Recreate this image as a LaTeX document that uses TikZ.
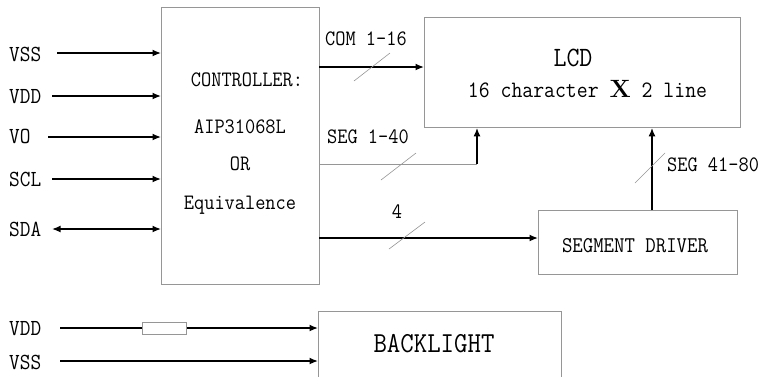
\documentclass[tikz,border=0pt]{standalone}
\usepackage{fontspec}
\setmonofont{Latin Modern Mono}[FakeStretch=0.9]
\usetikzlibrary{arrows.meta}
\definecolor{boxgray}{RGB}{150,150,150}
\begin{document}
\begin{tikzpicture}[x=1pt,y=-1pt,
  box/.style={draw=boxgray, line width=0.9pt, inner sep=0pt, anchor=north west},
  txt/.style={font=\ttfamily\fontsize{22}{24}\selectfont, inner sep=0pt},
  lbl/.style={txt, anchor=base west},
  ctxt/.style={txt, anchor=base},
  arr/.style={line width=1.5pt, -{Latex[length=8.5pt,width=7pt]}},
  darr/.style={line width=1.5pt, {Latex[length=8.5pt,width=7pt]}-{Latex[length=8.5pt,width=7pt]}},
  thinln/.style={draw=boxgray, line width=0.9pt},
  slash/.style={draw=boxgray, line width=0.6pt}]
\useasboundingbox (0,0) rectangle (766,376);
\fill[white] (0,0) rectangle (766,376);

% boxes
\node[box, minimum width=158pt, minimum height=277pt] (ctrl) at (161,7) {};
\node[box, minimum width=316pt, minimum height=110pt] (lcd) at (424,17) {};
\node[box, minimum width=199pt, minimum height=64pt] (seg) at (538,210) {};
\node[box, minimum width=243pt, minimum height=90pt] (bl) at (318,311) {};
\node[box, minimum width=44pt, minimum height=12pt, line width=0.8pt] (res) at (142,322) {};

% controller text
\node[ctxt] (t1) at (247,86) {CONTROLLER:};
\node[ctxt] (t2) at (240,133) {AIP31068L};
\node[ctxt] (t3) at (240,170) {OR};
\node[ctxt] (t4) at (240,209) {Equivalence};

% LCD text
\node[ctxt, font=\ttfamily\fontsize{28}{30}\selectfont] (tl1) at (573,66.5) {LCD};
\node[ctxt, font=\ttfamily\fontsize{23.5}{26}\selectfont] (tl2) at (587.5,97) {16 character {\rmfamily\bfseries\fontsize{25}{26}\selectfont X} 2 line};

% segment driver / backlight text
\node[ctxt, font=\ttfamily\fontsize{22.5}{24}\selectfont] (ts) at (635,252) {SEGMENT DRIVER};
\node[ctxt, font=\ttfamily\fontsize{29}{31}\selectfont] (tb) at (434,352.5) {BACKLIGHT};

% input labels
\begin{scope}[every node/.style={lbl, font=\ttfamily\fontsize{23}{25}\selectfont}]
\node (lvss) at (9,61.5) {VSS};
\node (lvdd) at (9,103) {VDD};
\node (lvo) at (9,143) {VO};
\node (lscl) at (9,186) {SCL};
\node (lsda) at (9,236) {SDA};
\node (lbvdd) at (9,335) {VDD};
\node (lbvss) at (9,369) {VSS};
\end{scope}

% input arrows
\coordinate (pvss) at (57,53);
\coordinate (pvdd) at (52,96);
\coordinate (pvo) at (48,137);
\coordinate (pscl) at (52,179);
\coordinate (psda) at (52,229);
\draw[arr] (pvss) -- (pvss -| ctrl.west);
\draw[arr] (pvdd) -- (pvdd -| ctrl.west);
\draw[arr] (pvo) -- (pvo -| ctrl.west);
\draw[arr] (pscl) -- (pscl -| ctrl.west);
\draw[darr] (psda) -- (psda -| ctrl.west);

% bus labels
\node[lbl] (lcom) at (325,45) {COM 1-16};
\node[lbl] (lseg1) at (327,143) {SEG 1-40};
\node[lbl] (lseg2) at (667,171) {SEG 41-80};
\node[ctxt] (l4) at (397,218) {4};

% COM
\coordinate (ccom) at (319,67);
\draw[arr] (ccom) -- (ccom -| lcd.west);
\draw[slash] (354,81) -- (390,53);

% SEG 1-40
\coordinate (cs1) at (319,164);
\coordinate (cs1c) at (477,164);
\draw[thinln] (cs1) -- (cs1c);
\draw[arr] (cs1c) -- (cs1c |- lcd.south);
\draw[slash] (381,180) -- (416,153);

% 4
\coordinate (c4) at (319,238);
\draw[arr] (c4) -- (c4 -| seg.west);
\draw[slash] (389,249) -- (425,222);

% SEG 41-80
\coordinate (cs2) at (652,210);
\draw[arr] (cs2) -- (cs2 |- lcd.south);
\draw[slash] (635,183) -- (665,153);

% backlight
\coordinate (bvdd) at (60,328);
\coordinate (bvss) at (60,361);
\draw[line width=1.5pt] (bvdd) -- (bvdd -| res.west);
\draw[arr] (bvdd -| res.east) -- (bvdd -| bl.west);
\draw[arr] (bvss) -- (bvss -| bl.west);
\end{tikzpicture}
\end{document}
